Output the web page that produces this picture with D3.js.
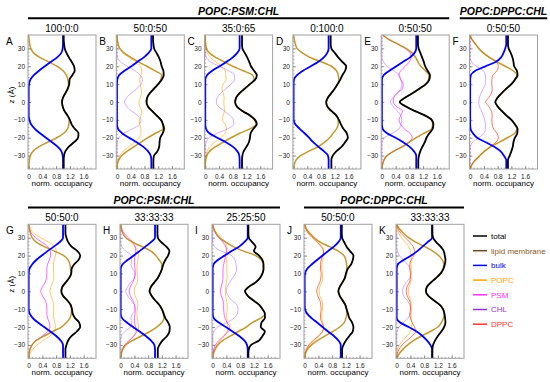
<!DOCTYPE html>
<html>
<head>
<meta charset="utf-8">
<script src="https://cdn.jsdelivr.net/npm/d3@7"></script>
<style>
  body { margin: 0; background: #fff; }
  svg { display: block; }
  text { font-family: "Liberation Sans", Arial, Helvetica, sans-serif; }
</style>
</head>
<body>
<svg width="550" height="382"></svg>
<script>
const zGrid = [37.5, 35, 32.5, 30, 27.5, 25, 22.5, 20, 17.5, 15, 12.5, 10, 7.5, 5, 2.5, 0,
  -2.5, -5, -7.5, -10, -12.5, -15, -17.5, -20, -22.5, -25, -27.5, -30, -32.5, -35, -37.5];
const zTicks = [-30, -20, -10, 0, 10, 20, 30];
const xTicks = [0, 0.4, 0.8, 1.2, 1.6];

const legendLabels = ['total', 'lipid membrane', 'bulk', 'POPC', 'PSM', 'CHL', 'DPPC'];

// A  100:0:0
const totalA = [1.02,1.02,1.03,1.05,1.1,1.17,1.25,1.32,1.34,1.27,1.19,1.18,1.14,1.07,1.0,0.97,0.99,1.04,1.13,1.2,1.25,1.34,1.45,1.44,1.32,1.17,1.07,1.03,1.02,1.02,1.02];
const lipidA = [0,0.01,0.03,0.06,0.14,0.32,0.58,0.83,1.0,1.1,1.14,1.16,1.13,1.07,1.0,0.97,0.99,1.04,1.12,1.18,1.17,1.13,1.02,0.82,0.56,0.3,0.13,0.05,0.02,0.01,0];
const bulkA = [1,1,1,0.99,0.95,0.83,0.65,0.47,0.3,0.15,0.05,0.01,0,0,0,0,0,0,0,0.02,0.07,0.18,0.33,0.5,0.68,0.84,0.95,0.99,1,1,1];

// B  50:0:50
const totalB = [1.05,1.05,1.06,1.08,1.15,1.22,1.27,1.3,1.35,1.36,1.3,1.2,1.08,0.96,0.88,0.86,0.9,1.02,1.15,1.28,1.34,1.37,1.33,1.26,1.24,1.23,1.18,1.08,1.06,1.06,1.06];
const lipidB = [0,0.01,0.03,0.08,0.2,0.4,0.63,0.87,1.1,1.3,1.28,1.2,1.08,0.96,0.88,0.86,0.9,1.02,1.15,1.28,1.33,1.34,1.12,0.9,0.7,0.5,0.3,0.14,0.05,0.01,0];
const bulkB = [1,1,1,1,0.92,0.78,0.6,0.42,0.22,0.06,0.01,0,0,0,0,0,0,0,0,0,0,0.03,0.15,0.35,0.57,0.76,0.9,0.98,1,1,1];
const popcB = [0,0.01,0.03,0.07,0.18,0.35,0.55,0.68,0.72,0.7,0.66,0.68,0.7,0.72,0.68,0.64,0.66,0.72,0.7,0.65,0.66,0.7,0.7,0.65,0.52,0.35,0.18,0.08,0.03,0.01,0];
const chlB = [0,0,0,0,0,0.02,0.1,0.3,0.52,0.68,0.74,0.7,0.58,0.42,0.28,0.22,0.28,0.42,0.6,0.7,0.66,0.45,0.2,0.06,0.01,0,0,0,0,0,0];

// C  35:0:65
const totalC = [1.07,1.07,1.07,1.08,1.15,1.22,1.28,1.33,1.42,1.5,1.45,1.3,1.15,1.0,0.9,0.87,0.92,1.08,1.3,1.45,1.5,1.4,1.32,1.3,1.27,1.2,1.12,1.08,1.07,1.07,1.07];
const lipidC = [0,0,0.01,0.03,0.12,0.3,0.55,0.8,1.1,1.38,1.42,1.3,1.15,1.0,0.9,0.87,0.92,1.08,1.3,1.43,1.48,1.3,1.0,0.75,0.52,0.3,0.13,0.04,0.01,0,0];
const bulkC = [1,1,1,1,0.93,0.8,0.62,0.42,0.2,0.05,0,0,0,0,0,0,0,0,0,0,0,0.02,0.12,0.35,0.6,0.8,0.93,0.99,1,1,1];
const popcC = [0,0,0.01,0.02,0.06,0.14,0.3,0.48,0.58,0.6,0.6,0.52,0.48,0.52,0.55,0.54,0.55,0.56,0.52,0.5,0.58,0.62,0.57,0.45,0.28,0.13,0.05,0.02,0.01,0,0];
const chlC = [0,0,0,0,0,0.03,0.15,0.4,0.68,0.85,0.85,0.75,0.6,0.45,0.35,0.32,0.38,0.55,0.72,0.82,0.83,0.65,0.35,0.12,0.03,0,0,0,0,0,0];

// D  0:100:0
const totalD = [1.08,1.08,1.08,1.1,1.2,1.3,1.42,1.53,1.5,1.42,1.36,1.28,1.2,1.1,1.0,0.95,0.98,1.1,1.24,1.32,1.38,1.45,1.55,1.58,1.5,1.4,1.25,1.14,1.1,1.1,1.1];
const lipidD = [0,0.02,0.05,0.1,0.25,0.48,0.8,1.1,1.25,1.3,1.32,1.28,1.2,1.1,1.0,0.95,0.98,1.1,1.24,1.3,1.3,1.25,1.15,1.05,0.9,0.72,0.45,0.2,0.07,0.02,0];
const bulkD = [1.02,1.02,1.02,1.02,0.98,0.88,0.72,0.5,0.27,0.1,0.01,0,0,0,0,0,0,0,0,0,0.05,0.18,0.32,0.45,0.57,0.72,0.88,1.0,1.02,1.02,1.02];

// E  0:50:50
const totalE = [1.05,1.05,1.05,1.07,1.12,1.17,1.22,1.26,1.33,1.4,1.38,1.28,1.1,0.9,0.68,0.52,0.7,0.95,1.25,1.45,1.5,1.48,1.38,1.3,1.25,1.18,1.12,1.08,1.06,1.06,1.06];
const lipidE = [0.02,0.2,0.45,0.7,0.88,0.98,1.05,1.13,1.27,1.37,1.36,1.28,1.1,0.9,0.68,0.52,0.7,0.95,1.25,1.45,1.48,1.45,1.22,1.0,0.8,0.6,0.35,0.15,0.06,0.02,0];
const bulkE = [1,1,1,1,0.95,0.82,0.62,0.42,0.22,0.05,0,0,0,0,0,0,0,0,0,0,0,0.02,0.15,0.4,0.62,0.8,0.93,1,1,1,1];
const psmE = [0.02,0.2,0.45,0.68,0.82,0.85,0.8,0.68,0.55,0.5,0.55,0.62,0.6,0.45,0.35,0.33,0.42,0.6,0.55,0.5,0.55,0.65,0.82,0.88,0.78,0.58,0.35,0.15,0.06,0.02,0];
const chlE = [0,0,0,0,0,0,0.05,0.15,0.35,0.5,0.55,0.58,0.55,0.45,0.33,0.25,0.33,0.45,0.55,0.58,0.55,0.5,0.3,0.08,0.01,0,0,0,0,0,0];

// F  0:50:50 (DPPC)
const totalF = [1.1,1.1,1.1,1.12,1.18,1.23,1.26,1.28,1.36,1.38,1.3,1.2,1.05,0.92,0.8,0.73,0.8,0.92,1.05,1.2,1.3,1.38,1.37,1.3,1.26,1.24,1.2,1.15,1.1,1.1,1.1];
const lipidF = [0,0.05,0.15,0.25,0.38,0.56,0.78,1.02,1.25,1.36,1.3,1.2,1.05,0.92,0.8,0.73,0.8,0.92,1.05,1.2,1.3,1.36,1.3,1.08,0.85,0.6,0.42,0.28,0.15,0.05,0];
const bulkF = [1.05,1.05,1.05,1.02,0.97,0.9,0.75,0.45,0.15,0.02,0,0,0,0,0,0,0,0,0,0,0,0.01,0.08,0.2,0.45,0.7,0.88,0.98,1.05,1.05,1.05];
const dppcF = [0,0.05,0.15,0.25,0.38,0.55,0.75,0.82,0.78,0.66,0.63,0.63,0.64,0.62,0.54,0.45,0.54,0.62,0.64,0.63,0.64,0.68,0.78,0.82,0.75,0.58,0.42,0.28,0.15,0.05,0];
const chlF = [0,0,0,0,0,0,0.04,0.18,0.38,0.44,0.45,0.44,0.38,0.32,0.27,0.25,0.27,0.33,0.38,0.42,0.44,0.44,0.4,0.25,0.07,0.01,0,0,0,0,0];

// G  50:50:0
const totalG = [1.07,1.07,1.07,1.1,1.15,1.25,1.42,1.5,1.45,1.32,1.25,1.24,1.18,1.08,0.98,0.95,1.0,1.12,1.22,1.26,1.28,1.35,1.47,1.5,1.4,1.25,1.15,1.1,1.07,1.07,1.07];
const lipidG = [0,0.02,0.05,0.1,0.22,0.45,0.75,1.02,1.15,1.2,1.22,1.23,1.18,1.08,0.98,0.95,1.0,1.12,1.22,1.25,1.24,1.2,1.1,0.95,0.7,0.45,0.22,0.1,0.04,0.01,0];
const bulkG = [1,1,1,1,0.9,0.73,0.55,0.38,0.22,0.1,0.02,0,0,0,0,0,0,0,0,0,0.03,0.12,0.27,0.45,0.63,0.8,0.93,1,1,1,1];
const popcG = [0,0.05,0.15,0.35,0.58,0.75,0.8,0.78,0.74,0.72,0.72,0.73,0.73,0.7,0.65,0.62,0.65,0.7,0.73,0.73,0.72,0.73,0.76,0.78,0.75,0.62,0.42,0.25,0.12,0.04,0];
const psmG = [0,0.02,0.08,0.2,0.38,0.55,0.63,0.64,0.6,0.55,0.53,0.53,0.52,0.48,0.4,0.35,0.4,0.48,0.52,0.53,0.53,0.55,0.6,0.62,0.55,0.4,0.22,0.1,0.04,0.01,0];

// H  33:33:33
const totalH = [1.07,1.07,1.07,1.08,1.18,1.33,1.42,1.38,1.3,1.24,1.2,1.15,1.08,0.98,0.88,0.84,0.9,1.0,1.12,1.2,1.25,1.3,1.38,1.43,1.42,1.35,1.22,1.13,1.08,1.08,1.08];
const lipidH = [0,0.02,0.06,0.15,0.35,0.62,0.88,1.02,1.12,1.2,1.2,1.15,1.08,0.98,0.88,0.84,0.9,1.0,1.12,1.2,1.25,1.26,1.2,1.05,0.85,0.6,0.35,0.15,0.06,0.02,0];
const bulkH = [1,1,1,1,0.88,0.72,0.55,0.38,0.2,0.05,0,0,0,0,0,0,0,0,0,0,0,0.04,0.18,0.36,0.55,0.73,0.88,0.98,1,1,1];
const popcH = [0,0.02,0.06,0.15,0.3,0.42,0.5,0.52,0.5,0.48,0.47,0.48,0.5,0.48,0.42,0.4,0.42,0.48,0.5,0.48,0.47,0.48,0.5,0.52,0.48,0.38,0.25,0.12,0.05,0.01,0];
const psmH = [0,0.03,0.1,0.22,0.35,0.42,0.44,0.42,0.4,0.4,0.42,0.42,0.4,0.35,0.28,0.25,0.28,0.35,0.4,0.42,0.42,0.4,0.4,0.44,0.45,0.38,0.25,0.12,0.05,0.01,0];
const chlH = [0,0,0,0,0,0.03,0.15,0.3,0.32,0.3,0.35,0.42,0.4,0.3,0.2,0.15,0.2,0.3,0.4,0.42,0.35,0.3,0.32,0.28,0.12,0.02,0,0,0,0,0];

// I  25:25:50
const totalI = [1.04,1.04,1.04,1.05,1.15,1.25,1.2,1.35,1.45,1.48,1.48,1.45,1.38,1.25,1.05,0.94,1.02,1.18,1.35,1.45,1.52,1.52,1.42,1.4,1.52,1.45,1.35,1.12,1.05,1.04,1.04];
const lipidI = [0,0.03,0.1,0.2,0.38,0.6,0.9,1.25,1.42,1.47,1.48,1.45,1.38,1.25,1.05,0.94,1.02,1.18,1.35,1.45,1.52,1.4,1.15,0.98,0.75,0.52,0.3,0.15,0.07,0.02,0];
const bulkI = [1.02,1.02,1.02,1.02,0.92,0.77,0.55,0.35,0.15,0.02,0,0,0,0,0,0,0,0,0,0,0,0.03,0.18,0.38,0.58,0.77,0.92,1.0,1.02,1.02,1.02];
const popcI = [0,0.04,0.12,0.25,0.36,0.41,0.42,0.42,0.41,0.41,0.41,0.42,0.42,0.4,0.38,0.37,0.38,0.4,0.42,0.42,0.41,0.41,0.42,0.44,0.42,0.34,0.22,0.12,0.05,0.01,0];
const psmI = [0,0.03,0.08,0.18,0.3,0.38,0.4,0.38,0.35,0.32,0.3,0.3,0.3,0.28,0.25,0.22,0.25,0.3,0.32,0.32,0.33,0.36,0.42,0.5,0.45,0.32,0.18,0.08,0.03,0.01,0];
const chlI = [0,0,0,0,0,0.05,0.25,0.55,0.65,0.68,0.7,0.66,0.58,0.5,0.42,0.4,0.45,0.55,0.7,0.74,0.72,0.62,0.42,0.15,0.03,0,0,0,0,0,0];

// J  50:50:0 (DPPC)
const totalJ = [1.08,1.08,1.08,1.09,1.15,1.22,1.32,1.42,1.4,1.35,1.25,1.2,1.17,1.1,1.02,0.98,1.02,1.1,1.18,1.22,1.26,1.3,1.38,1.42,1.4,1.3,1.2,1.13,1.09,1.09,1.09];
const lipidJ = [0,0.05,0.15,0.28,0.45,0.72,0.98,1.14,1.2,1.22,1.23,1.22,1.17,1.1,1.02,0.98,1.02,1.1,1.18,1.22,1.23,1.2,1.15,1.02,0.82,0.6,0.38,0.2,0.08,0.02,0];
const bulkJ = [1.05,1.05,1.05,1.05,0.98,0.85,0.68,0.52,0.36,0.2,0.07,0.01,0,0,0,0,0,0,0,0.01,0.07,0.2,0.36,0.52,0.68,0.85,0.98,1.05,1.05,1.05,1.05];
const popcJ = [0,0.04,0.12,0.25,0.4,0.5,0.55,0.55,0.52,0.5,0.5,0.52,0.52,0.5,0.44,0.42,0.44,0.5,0.52,0.52,0.5,0.5,0.52,0.55,0.52,0.42,0.28,0.14,0.06,0.02,0];
const dppcJ = [0,0.03,0.1,0.22,0.36,0.48,0.55,0.53,0.48,0.46,0.46,0.48,0.47,0.44,0.38,0.35,0.38,0.44,0.47,0.48,0.46,0.46,0.5,0.55,0.52,0.4,0.25,0.12,0.05,0.01,0];

// K  33:33:33 (DPPC)
const totalK = [1.04,1.04,1.04,1.06,1.15,1.28,1.37,1.4,1.42,1.4,1.36,1.28,1.15,1.0,0.88,0.85,0.92,1.08,1.25,1.35,1.39,1.41,1.42,1.38,1.3,1.2,1.12,1.06,1.04,1.04,1.04];
const lipidK = [0,0.08,0.2,0.35,0.55,0.82,1.05,1.22,1.33,1.37,1.35,1.28,1.15,1.0,0.88,0.85,0.92,1.08,1.25,1.35,1.38,1.36,1.3,1.2,0.98,0.72,0.5,0.32,0.18,0.07,0.01];
const bulkK = [1.03,1.03,1.03,1.03,0.9,0.75,0.6,0.42,0.2,0.03,0,0,0,0,0,0,0,0,0,0,0,0,0.1,0.35,0.58,0.75,0.88,0.98,1.03,1.03,1.03];
const popcK = [0,0.02,0.06,0.14,0.25,0.35,0.4,0.42,0.42,0.42,0.42,0.42,0.42,0.4,0.36,0.34,0.36,0.4,0.42,0.42,0.42,0.42,0.44,0.44,0.4,0.3,0.18,0.08,0.03,0.01,0];
const dppcK = [0,0.04,0.12,0.25,0.38,0.48,0.52,0.5,0.42,0.38,0.38,0.4,0.4,0.37,0.3,0.28,0.3,0.37,0.4,0.4,0.38,0.4,0.45,0.52,0.55,0.45,0.3,0.16,0.07,0.02,0];
const chlK = [0,0,0,0,0,0,0.02,0.08,0.2,0.32,0.4,0.42,0.38,0.28,0.2,0.17,0.2,0.3,0.38,0.42,0.4,0.33,0.2,0.07,0.01,0,0,0,0,0,0];

const panels = [
  { id: 'A', title: '100:0:0',  curves: { total: totalA, lipid: lipidA, bulk: bulkA } },
  { id: 'B', title: '50:0:50',  curves: { total: totalB, lipid: lipidB, bulk: bulkB, popc: popcB, chl: chlB } },
  { id: 'C', title: '35:0:65',  curves: { total: totalC, lipid: lipidC, bulk: bulkC, popc: popcC, chl: chlC } },
  { id: 'D', title: '0:100:0',  curves: { total: totalD, lipid: lipidD, bulk: bulkD } },
  { id: 'E', title: '0:50:50',  curves: { total: totalE, lipid: lipidE, bulk: bulkE, psm: psmE, chl: chlE } },
  { id: 'F', title: '0:50:50',  curves: { total: totalF, lipid: lipidF, bulk: bulkF, dppc: dppcF, chl: chlF } },
  { id: 'G', title: '50:50:0',  curves: { total: totalG, lipid: lipidG, bulk: bulkG, popc: popcG, psm: psmG } },
  { id: 'H', title: '33:33:33', curves: { total: totalH, lipid: lipidH, bulk: bulkH, popc: popcH, psm: psmH, chl: chlH } },
  { id: 'I', title: '25:25:50', curves: { total: totalI, lipid: lipidI, bulk: bulkI, popc: popcI, psm: psmI, chl: chlI } },
  { id: 'J', title: '50:50:0',  curves: { total: totalJ, lipid: lipidJ, bulk: bulkJ, popc: popcJ, dppc: dppcJ } },
  { id: 'K', title: '33:33:33', curves: { total: totalK, lipid: lipidK, bulk: bulkK, popc: popcK, dppc: dppcK, chl: chlK } }
];

const groups = [
  { label: 'POPC:PSM:CHL',  row: 0, first: 0, last: 4 },
  { label: 'POPC:DPPC:CHL', row: 0, first: 5, last: 5 },
  { label: 'POPC:PSM:CHL',  row: 1, first: 0, last: 2 },
  { label: 'POPC:DPPC:CHL', row: 1, first: 3, last: 4 }
];

// ---- styling / layout ----
const styles = {
  chl:   { color: '#9933ff', width: 1.0, opacity: 0.4 },
  popc:  { color: '#ffa500', width: 1.0, opacity: 0.6 },
  psm:   { color: '#ff00ff', width: 1.0, opacity: 0.6 },
  dppc:  { color: '#ff3300', width: 1.0, opacity: 0.65 },
  lipid: { color: '#b8860b', width: 1.5, opacity: 0.85 },
  bulk:  { color: '#0000ff', width: 1.8, opacity: 1 },
  total: { color: '#000000', width: 1.8, opacity: 1 }
};
const drawOrder = ['chl', 'popc', 'psm', 'dppc', 'lipid', 'bulk', 'total'];
const legendKeys = ['total', 'lipid', 'bulk', 'popc', 'psm', 'chl', 'dppc'];
const legendLine = ['#000', '#6b4a1e', '#0000ff', '#ffa500', '#ff33ff', '#9933cc', '#ff3333'];
const legendText = ['#000', '#8b5a2b', '#0000ff', '#ffa500', '#ff33ff', '#9933cc', '#ff3333'];

const svg = d3.select('svg');
const W = 68, H = 134;
const rowTop = [35, 224.3];
const colStep = [88.3, 92];
const left0 = 28;

function panelPos(i) {
  const row = i < 6 ? 0 : 1;
  const col = row === 0 ? i : i - 6;
  return { row, col, x: left0 + col * colStep[row], y: rowTop[row] };
}

const defs = svg.append('defs');

panels.forEach((p, i) => {
  const pos = panelPos(i);
  const g = svg.append('g').attr('transform', `translate(${pos.x},${pos.y})`);
  const x = d3.scaleLinear().domain([-0.02, 1.96]).range([0, W]);
  const y = d3.scaleLinear().domain([37.5, -37.5]).range([0, H]);

  defs.append('clipPath').attr('id', 'clip' + p.id)
    .append('rect').attr('width', W).attr('height', H);

  // minor ticks
  g.append('g').call(d3.axisLeft(y).tickValues(d3.range(-36, 37, 2)).tickSize(-1.5).tickFormat(''))
    .call(a => a.select('.domain').remove())
    .selectAll('line').attr('stroke', '#777').attr('stroke-width', 0.6);
  g.append('g').attr('transform', `translate(0,${H})`)
    .call(d3.axisBottom(x).tickValues(d3.range(0, 19).map(k => k / 10)).tickSize(-1.5).tickFormat(''))
    .call(a => a.select('.domain').remove())
    .selectAll('line').attr('stroke', '#777').attr('stroke-width', 0.6);

  // major ticks + labels
  const ya = g.append('g').call(d3.axisLeft(y).tickValues(zTicks).tickSize(-3).tickPadding(3));
  const xa = g.append('g').attr('transform', `translate(0,${H})`)
    .call(d3.axisBottom(x).tickValues(xTicks).tickSize(-3).tickPadding(5)
      .tickFormat(d => d === 0 ? '0' : d3.format('.1f')(d)));
  [ya, xa].forEach(a => {
    a.select('.domain').remove();
    a.selectAll('line').attr('stroke', '#666').attr('stroke-width', 0.7);
    a.selectAll('text').attr('font-size', 6.5).attr('fill', '#222')
      .style('font-family', '"Liberation Sans", Arial, sans-serif');
  });

  // curves
  const line = d3.line()
    .x(d => x(d[1]))
    .y(d => y(d[0]))
    .curve(d3.curveMonotoneY);
  const plot = g.append('g').attr('clip-path', `url(#clip${p.id})`);
  drawOrder.forEach(k => {
    if (!p.curves[k]) return;
    const s = styles[k];
    plot.append('path')
      .datum(zGrid.map((z, j) => [z, p.curves[k][j]]))
      .attr('d', line)
      .attr('fill', 'none')
      .attr('stroke', s.color)
      .attr('stroke-width', s.width)
      .attr('stroke-opacity', s.opacity)
      .attr('stroke-linejoin', 'round');
  });

  // frame
  g.append('rect').attr('width', W).attr('height', H)
    .attr('fill', 'none').attr('stroke', '#a0a0a0').attr('stroke-width', 1);

  // labels
  g.append('text').attr('x', W / 2).attr('y', -3.5).attr('text-anchor', 'middle')
    .attr('font-size', 10).text(p.title);
  g.append('text').attr('x', pos.col === 0 ? -22 : -17).attr('y', 9.5)
    .attr('font-size', 10).text(p.id);
  g.append('text').attr('x', W / 2).attr('y', H + 16.5).attr('text-anchor', 'middle')
    .attr('font-size', 8).text('norm. occupancy');
  if (pos.col === 0) {
    g.append('text').attr('transform', `translate(-14,${H / 2 - 7}) rotate(-90)`)
      .attr('text-anchor', 'middle').attr('font-size', 8).text('z (Å)');
  }
});

// group headers
groups.forEach(gr => {
  const a = panelPos(gr.row === 0 ? gr.first : gr.first + 6);
  const b = panelPos(gr.row === 0 ? gr.last : gr.last + 6);
  const x0 = a.x, x1 = b.x + W, cx = (x0 + x1) / 2;
  const yLine = rowTop[gr.row] - 16.7;
  const t = svg.append('text').attr('x', cx).attr('y', yLine - 3.3)
    .attr('text-anchor', 'middle').attr('font-size', 10.5)
    .attr('font-weight', 'bold').attr('font-style', 'italic').text(gr.label);
  const tw = t.node().getComputedTextLength();
  svg.append('line')
    .attr('x1', Math.min(x0, cx - tw / 2)).attr('x2', Math.max(x1, cx + tw / 2))
    .attr('y1', yLine).attr('y2', yLine)
    .attr('stroke', '#000').attr('stroke-width', 2);
});

// legend
const lg = svg.append('g').attr('transform', 'translate(473,236)');
legendKeys.forEach((k, i) => {
  const yy = i * 14.7;
  lg.append('line').attr('x1', 0).attr('x2', 14).attr('y1', yy).attr('y2', yy)
    .attr('stroke', legendLine[i]).attr('stroke-width', 1.5);
  lg.append('text').attr('x', 18).attr('y', yy).attr('dy', '0.35em')
    .attr('font-size', 8).attr('fill', legendText[i]).text(legendLabels[i]);
});
</script>
</body>
</html>
